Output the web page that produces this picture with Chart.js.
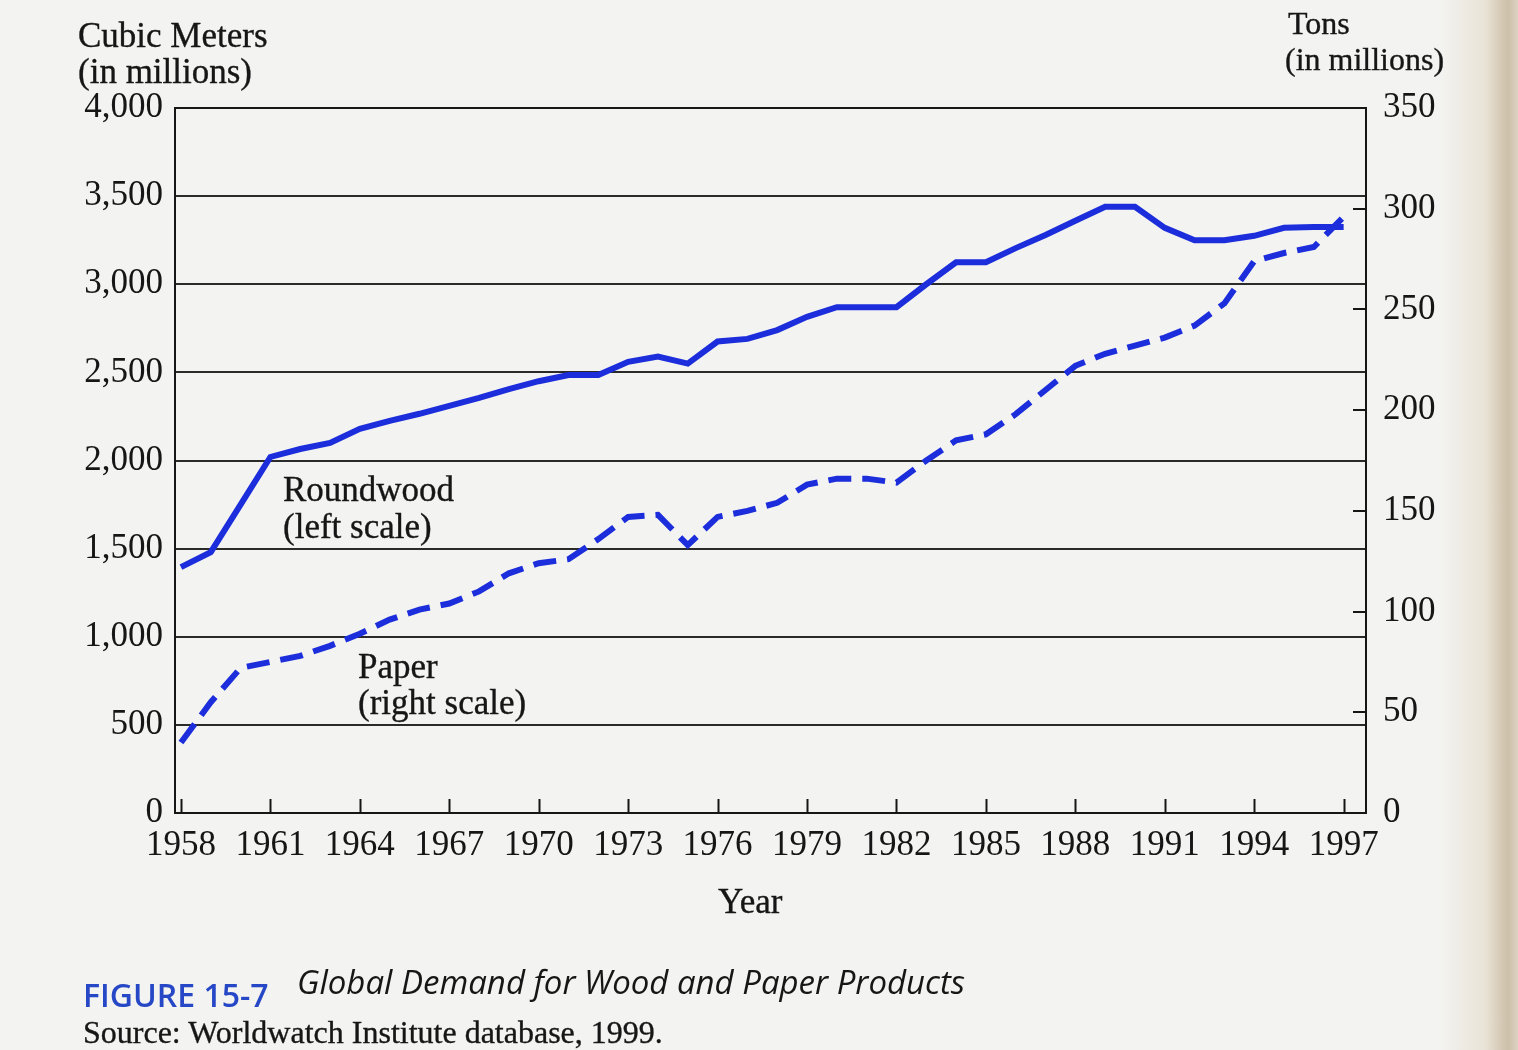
<!DOCTYPE html>
<html>
<head>
<meta charset="utf-8">
<script src="https://cdn.jsdelivr.net/npm/chart.js@4.4.1/dist/chart.umd.min.js"></script>
<style>
  html, body { margin: 0; padding: 0; width: 1518px; height: 1050px; overflow: hidden; }
  body {
    position: relative;
    background: linear-gradient(to right, #f3f3f1 0px, #f3f3f1 1440px, #e9e3d7 1485px, #cdbfa8 1508px, #dcd3c2 1518px);
  }
  #c { position: absolute; left: 0; top: 0; }
  .t {
    position: absolute; white-space: nowrap;
    font-family: "Liberation Serif", "DejaVu Serif", serif;
    font-size: 35px; line-height: 40px; color: #161616;
    -webkit-text-stroke: 0.35px #161616;
  }
  .cap { position: absolute; white-space: nowrap; font-family: "Open Sans", "Noto Sans", sans-serif; }
</style>
</head>
<body>
<canvas id="c" width="1518" height="1050"></canvas>

<div class="t" style="left:78px; top:16px;">Cubic Meters</div>
<div class="t" style="left:78px; top:52px;">(in millions)</div>
<div class="t" style="left:1288px; top:3px; font-size:32px;">Tons</div>
<div class="t" style="left:1285px; top:39px; font-size:32px;">(in millions)</div>

<div class="t" style="left:283px; top:470px;">Roundwood</div>
<div class="t" style="left:283px; top:507px;">(left scale)</div>
<div class="t" style="left:358px; top:647px;">Paper</div>
<div class="t" style="left:358px; top:683px;">(right scale)</div>

<div class="t" style="left:718px; top:882px;">Year</div>

<div class="cap" style="left:83px; top:975px; font-size:32px; line-height:40px; font-weight:600; color:#2647c6;">FIGURE 15-7</div>
<div class="cap" style="left:297px; top:962px; font-size:33px; line-height:40px; font-style:italic; color:#161616;">Global Demand for Wood and Paper Products</div>
<div class="t" style="left:83px; top:1012px; font-size:32px; line-height:40px;">Source: Worldwatch Institute database, 1999.</div>

<script>
// ---- data ----
const years = [1958, 1959, 1960, 1961, 1962, 1963, 1964, 1965, 1966, 1967,
               1968, 1969, 1970, 1971, 1972, 1973, 1974, 1975, 1976, 1977,
               1978, 1979, 1980, 1981, 1982, 1983, 1984, 1985, 1986, 1987,
               1988, 1989, 1990, 1991, 1992, 1993, 1994, 1995, 1996, 1997];

// Roundwood, million cubic meters (left scale)
const roundwood = [1395, 1480, 1750, 2020, 2065, 2100, 2180, 2225, 2265, 2310,
                   2355, 2405, 2450, 2485, 2485, 2560, 2590, 2550, 2675, 2690,
                   2740, 2815, 2870, 2870, 2870, 3000, 3125, 3125, 3205, 3280,
                   3360, 3440, 3440, 3320, 3250, 3250, 3275, 3320, 3325, 3325];

// Paper, million tons (right scale)
const paper = [35, 55, 72, 75, 78, 83, 89, 96, 101, 104,
               110, 119, 124, 126, 136, 147, 148, 133, 147, 150,
               154, 163, 166, 166, 164, 175, 185, 188, 198, 210,
               222, 228, 232, 236, 242, 253, 274, 278, 281, 296];

const xTickYears = [1958, 1961, 1964, 1967, 1970, 1973, 1976, 1979, 1982, 1985, 1988, 1991, 1994, 1997];
const leftTicks = [0, 500, 1000, 1500, 2000, 2500, 3000, 3500, 4000];
const rightTicks = [0, 50, 100, 150, 200, 250, 300, 350];

// ---- styling ----
const BLUE = '#1c2ddc';
const INK = '#161616';
const SERIF = '"Liberation Serif", "DejaVu Serif", serif';

const framePlugin = {
  id: 'frame',
  afterDatasetsDraw(chart) {
    const { ctx, chartArea: a, scales } = chart;
    ctx.save();
    ctx.strokeStyle = '#161616';
    ctx.lineWidth = 2;
    ctx.strokeRect(a.left, a.top, a.right - a.left, a.bottom - a.top);
    // inward x ticks
    ctx.beginPath();
    xTickYears.forEach(v => {
      const px = Math.round(scales.x.getPixelForValue(v)) + 0.5;
      ctx.moveTo(px, a.bottom);
      ctx.lineTo(px, a.bottom - 14);
    });
    // inward right-axis ticks
    rightTicks.forEach(v => {
      const py = Math.round(scales.y1.getPixelForValue(v));
      ctx.moveTo(a.right, py);
      ctx.lineTo(a.right - 13, py);
    });
    ctx.stroke();
    ctx.restore();
  }
};

new Chart(document.getElementById('c').getContext('2d'), {
  type: 'line',
  data: {
    datasets: [
      {
        label: 'Roundwood (left scale)',
        data: years.map((yr, i) => ({ x: yr, y: roundwood[i] })),
        yAxisID: 'y',
        borderColor: BLUE,
        borderWidth: 6,
        pointRadius: 0,
        tension: 0,
        fill: false
      },
      {
        label: 'Paper (right scale)',
        data: years.map((yr, i) => ({ x: yr, y: paper[i] })),
        yAxisID: 'y1',
        borderColor: BLUE,
        borderWidth: 6,
        borderDash: [23, 11],
        pointRadius: 0,
        tension: 0,
        fill: false
      }
    ]
  },
  options: {
    responsive: false,
    maintainAspectRatio: false,
    animation: false,
    layout: { padding: { left: 0, right: 0, top: 108, bottom: 177 } },
    plugins: { legend: { display: false }, tooltip: { enabled: false } },
    scales: {
      x: {
        type: 'linear',
        min: 1957.8,
        max: 1997.75,
        afterBuildTicks: s => { s.ticks = xTickYears.map(v => ({ value: v })); },
        afterFit: s => { s.height = 60; },
        grid: { display: false, drawTicks: false },
        border: { display: false },
        ticks: {
          autoSkip: false, maxRotation: 0, padding: 12,
          color: INK, font: { family: SERIF, size: 35 },
          callback: v => String(v)
        }
      },
      y: {
        position: 'left',
        min: 0, max: 4000,
        afterBuildTicks: s => { s.ticks = leftTicks.map(v => ({ value: v })); },
        afterFit: s => { s.width = 175; },
        grid: { color: '#2a2a2a', lineWidth: 2, drawTicks: false },
        border: { display: false },
        ticks: {
          padding: 12, color: INK, font: { family: SERIF, size: 35 },
          callback: v => v.toLocaleString('en-US')
        }
      },
      y1: {
        position: 'right',
        min: 0, max: 350,
        afterBuildTicks: s => { s.ticks = rightTicks.map(v => ({ value: v })); },
        afterFit: s => { s.width = 152; },
        grid: { display: false, drawTicks: false },
        border: { display: false },
        ticks: {
          padding: 17, color: INK, font: { family: SERIF, size: 35 },
          callback: v => String(v)
        }
      }
    }
  },
  plugins: [framePlugin]
});
</script>
</body>
</html>
